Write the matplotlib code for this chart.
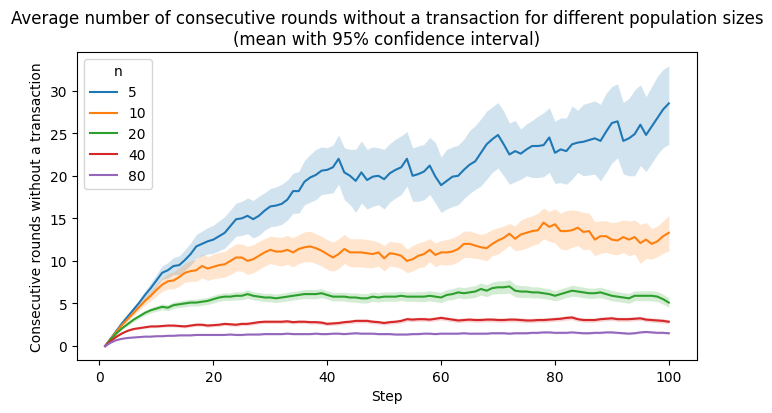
import matplotlib
matplotlib.use("Agg")
import matplotlib.pyplot as plt
import numpy as np

steps = list(range(1, 101))
sizes = [5, 10, 20, 40, 80]

# n = 5 : mean, lower and upper bound of the 95% CI
n5_mean = [0, 0.9, 1.8, 2.7, 3.5, 4.3, 5.1, 6.0, 6.8, 7.7,
           8.6, 8.9, 9.4, 9.5, 10.1, 10.8, 11.7, 12.0, 12.3, 12.5,
           12.9, 13.3, 14.1, 14.9, 15.0, 15.3, 14.9, 15.3, 15.9, 16.4,
           16.5, 16.7, 17.2, 18.2, 18.2, 19.3, 19.8, 20.1, 20.6, 20.7,
           21.0, 22.0, 20.4, 20.0, 19.4, 20.4, 19.5, 19.9, 20.0, 19.6,
           20.3, 20.7, 21.0, 22.0, 20.0, 20.2, 20.5, 21.2, 19.9, 18.9,
           19.4, 19.9, 20.0, 20.7, 21.3, 21.7, 22.7, 23.7, 24.3, 24.8,
           23.7, 22.5, 22.9, 22.6, 23.1, 23.5, 23.5, 23.6, 24.5, 22.7,
           23.1, 22.9, 23.7, 23.9, 24.0, 24.2, 24.4, 24.1, 25.2, 26.2,
           26.4, 24.1, 24.4, 24.9, 26.0, 24.8, 25.8, 26.8, 27.8, 28.5]
n5_hi = [0, 0.95, 1.9, 2.85, 3.75, 4.6, 5.5, 6.5, 7.4, 8.4,
         9.4, 9.8, 10.4, 10.6, 11.3, 12.1, 13.1, 13.5, 13.9, 14.2,
         14.7, 15.2, 16.0, 16.8, 17.0, 17.4, 17.1, 17.6, 18.0, 18.5,
         18.7, 19.0, 19.5, 20.3, 20.5, 21.8, 22.5, 23.1, 23.4, 23.3,
         23.6, 24.8, 23.3, 23.1, 23.1, 24.1, 23.1, 23.4, 23.3, 23.1,
         23.8, 24.3, 24.7, 25.2, 23.3, 23.5, 23.7, 24.5, 23.9, 22.2,
         23.1, 23.4, 23.6, 24.3, 25.3, 25.9, 26.7, 27.6, 28.1, 28.6,
         27.6, 26.2, 26.5, 25.5, 26.1, 26.5, 27.0, 27.4, 28.0, 26.4,
         26.8, 26.8, 28.2, 27.7, 28.4, 28.6, 28.8, 28.4, 29.7, 30.5,
         30.8, 28.6, 29.1, 30.1, 30.7, 29.3, 30.5, 31.7, 32.5, 32.9]
n5_lo = [0, 0.85, 1.7, 2.55, 3.25, 4.0, 4.7, 5.5, 6.2, 7.0,
         7.8, 8.0, 8.4, 8.4, 8.9, 9.5, 10.3, 10.6, 10.8, 10.9,
         11.2, 11.5, 12.2, 12.9, 13.0, 13.2, 12.7, 13.0, 13.6, 14.0,
         14.1, 14.3, 14.8, 15.6, 15.6, 16.6, 16.9, 17.2, 17.8, 17.9,
         18.0, 19.0, 17.2, 16.6, 15.7, 16.8, 16.1, 16.4, 16.6, 16.1,
         16.9, 17.4, 17.8, 18.8, 17.0, 17.0, 17.2, 17.8, 16.8, 15.7,
         16.1, 16.4, 16.6, 17.3, 17.9, 18.4, 18.8, 19.6, 20.4, 20.9,
         20.0, 19.0, 19.3, 19.6, 20.0, 19.8, 19.8, 19.9, 20.4, 19.1,
         19.2, 19.0, 19.6, 20.4, 20.0, 20.1, 20.2, 19.4, 20.4, 21.5,
         22.1, 20.2, 20.0, 20.0, 21.2, 20.5, 21.5, 22.5, 23.3, 23.7]

# n = 10
n10_mean = [0, 0.85, 1.7, 2.5, 3.2, 3.9, 4.6, 5.3, 5.9, 6.6,
            7.2, 7.6, 7.7, 8.1, 8.6, 8.8, 8.9, 9.4, 9.1, 9.3,
            9.5, 9.6, 10.0, 10.4, 10.4, 10.0, 10.2, 10.6, 11.0, 11.3,
            11.1, 11.1, 11.3, 11.0, 11.4, 11.6, 11.7, 11.5, 11.2, 10.8,
            10.4, 10.8, 11.4, 11.0, 11.0, 11.0, 10.9, 10.8, 11.0, 10.3,
            10.9, 10.8, 10.6, 10.0, 10.2, 10.6, 10.8, 11.3, 10.7, 11.0,
            11.0, 11.1, 11.4, 12.0, 12.0, 11.8, 11.6, 11.5, 12.0, 12.4,
            12.7, 13.2, 12.6, 13.1, 13.3, 13.5, 13.6, 14.5, 14.0, 14.3,
            13.5, 13.5, 13.6, 13.9, 13.4, 13.5, 12.5, 12.9, 12.9, 12.5,
            12.4, 12.8, 12.5, 12.8, 12.1, 12.5, 12.0, 12.3, 12.9, 13.3]
n10_hi = [0, 0.9, 1.8, 2.7, 3.45, 4.25, 5.0, 5.8, 6.5, 7.3,
          8.0, 8.5, 8.7, 9.2, 9.7, 10.0, 10.2, 10.8, 10.5, 10.8,
          11.0, 11.1, 11.6, 12.0, 12.0, 11.7, 11.9, 12.3, 12.6, 12.9,
          12.8, 12.8, 13.0, 12.7, 13.1, 13.4, 13.5, 13.2, 12.9, 12.5,
          12.2, 12.6, 13.1, 12.6, 12.6, 12.6, 12.5, 12.4, 12.2, 11.8,
          12.3, 12.2, 12.1, 11.4, 11.8, 12.1, 12.3, 12.6, 12.1, 12.4,
          12.5, 12.7, 13.0, 13.5, 13.5, 13.3, 13.1, 13.3, 13.7, 13.9,
          14.1, 14.4, 14.1, 14.8, 15.1, 15.3, 15.6, 16.2, 15.8, 16.1,
          15.6, 15.9, 16.0, 15.9, 15.7, 15.6, 14.6, 14.7, 14.7, 14.5,
          14.6, 14.8, 14.7, 14.8, 14.3, 14.5, 13.8, 14.1, 14.7, 15.3]
n10_lo = [0, 0.8, 1.6, 2.3, 2.95, 3.55, 4.2, 4.8, 5.3, 5.9,
          6.4, 6.7, 6.7, 7.0, 7.5, 7.6, 7.6, 8.0, 7.7, 7.9,
          8.0, 8.1, 8.4, 8.8, 8.8, 8.4, 8.6, 9.0, 9.4, 9.7,
          9.5, 9.4, 9.6, 9.3, 9.7, 9.9, 9.9, 9.7, 9.4, 9.0,
          8.8, 9.1, 9.7, 9.3, 9.3, 9.3, 9.2, 9.2, 9.4, 8.8,
          9.4, 9.3, 9.1, 8.6, 8.8, 9.2, 9.3, 9.9, 9.3, 9.6,
          9.5, 9.6, 9.9, 10.4, 10.4, 10.3, 10.2, 10.0, 10.6, 10.8,
          11.3, 11.8, 11.2, 11.3, 11.5, 11.8, 12.0, 12.6, 12.3, 12.1,
          11.4, 11.3, 11.6, 11.8, 11.3, 11.4, 10.6, 10.9, 11.0, 10.8,
          10.7, 11.0, 10.6, 10.8, 9.7, 10.3, 10.2, 10.5, 10.9, 11.2]

# n = 20, 40, 80 : mean and half width of the CI band
n20_mean = [0, 0.8, 1.5, 2.1, 2.6, 3.1, 3.5, 3.9, 4.2, 4.4,
            4.6, 4.5, 4.8, 4.9, 5.0, 5.1, 5.1, 5.2, 5.3, 5.5,
            5.7, 5.8, 5.8, 5.9, 5.9, 6.1, 5.9, 5.8, 5.7, 5.7,
            5.6, 5.7, 5.8, 5.9, 6.0, 6.1, 6.1, 6.1, 6.2, 6.0,
            5.8, 5.8, 5.8, 5.7, 5.7, 5.6, 5.6, 5.8, 5.7, 5.8,
            5.8, 5.8, 5.9, 5.8, 5.8, 5.8, 5.8, 5.9, 5.8, 5.7,
            6.0, 6.1, 6.3, 6.2, 6.3, 6.4, 6.7, 6.5, 6.8, 6.9,
            6.9, 7.0, 6.5, 6.4, 6.4, 6.3, 6.3, 6.2, 6.1, 5.9,
            6.1, 6.3, 6.5, 6.4, 6.3, 6.2, 6.2, 6.3, 6.1, 5.9,
            5.8, 5.7, 5.6, 5.9, 5.9, 5.9, 5.9, 5.8, 5.5, 5.1]
n20_err = [0, 0.05, 0.1, 0.15, 0.2, 0.22, 0.25, 0.28, 0.3, 0.32,
           0.35, 0.35, 0.38, 0.38, 0.4, 0.4, 0.4, 0.42, 0.42, 0.45,
           0.45, 0.45, 0.45, 0.48, 0.48, 0.5, 0.48, 0.48, 0.48, 0.5,
           0.5, 0.5, 0.5, 0.5, 0.5, 0.52, 0.55, 0.55, 0.52, 0.5,
           0.5, 0.5, 0.52, 0.52, 0.55, 0.55, 0.55, 0.55, 0.55, 0.55,
           0.55, 0.55, 0.55, 0.55, 0.55, 0.58, 0.6, 0.6, 0.6, 0.62,
           0.62, 0.65, 0.65, 0.65, 0.68, 0.7, 0.72, 0.7, 0.72, 0.75,
           0.75, 0.78, 0.72, 0.7, 0.68, 0.65, 0.65, 0.62, 0.62, 0.6,
           0.62, 0.62, 0.65, 0.62, 0.62, 0.6, 0.6, 0.62, 0.6, 0.6,
           0.58, 0.58, 0.58, 0.58, 0.58, 0.6, 0.6, 0.6, 0.58, 0.55]

n40_mean = [0, 0.6, 1.1, 1.5, 1.8, 2.0, 2.1, 2.2, 2.3, 2.3,
            2.35, 2.4, 2.4, 2.35, 2.3, 2.4, 2.5, 2.5, 2.4, 2.45,
            2.5, 2.6, 2.55, 2.5, 2.6, 2.6, 2.7, 2.8, 2.85, 2.85,
            2.85, 2.85, 2.9, 2.8, 2.85, 2.85, 2.8, 2.8, 2.75, 2.6,
            2.65, 2.7, 2.8, 2.85, 2.95, 2.95, 2.95, 2.85, 2.8, 2.7,
            2.8, 2.85, 2.95, 3.15, 3.1, 3.15, 3.15, 3.1, 3.2, 3.3,
            3.2, 3.1, 3.0, 3.05, 3.1, 3.05, 3.05, 3.1, 3.1, 3.05,
            3.05, 3.1, 3.1, 3.05, 3.0, 3.0, 3.05, 3.05, 3.1, 3.15,
            3.2, 3.3, 3.35, 3.15, 3.05, 3.05, 3.05, 3.15, 3.2, 3.25,
            3.15, 3.15, 3.15, 3.2, 3.25, 3.1, 3.05, 3.0, 2.95, 2.85]
n40_err = [0, 0.04, 0.06, 0.08, 0.1, 0.11, 0.12, 0.13, 0.14, 0.15,
           0.15, 0.16, 0.16, 0.16, 0.17, 0.17, 0.17, 0.18, 0.18, 0.18,
           0.18, 0.19, 0.19, 0.19, 0.2, 0.2, 0.2, 0.2, 0.2, 0.2,
           0.2, 0.2, 0.21, 0.21, 0.21, 0.21, 0.21, 0.22, 0.22, 0.22,
           0.22, 0.22, 0.22, 0.22, 0.23, 0.23, 0.23, 0.23, 0.23, 0.23,
           0.23, 0.23, 0.24, 0.24, 0.24, 0.24, 0.24, 0.24, 0.24, 0.25,
           0.25, 0.25, 0.25, 0.25, 0.25, 0.25, 0.25, 0.25, 0.25, 0.25,
           0.25, 0.25, 0.25, 0.25, 0.25, 0.25, 0.25, 0.25, 0.25, 0.25,
           0.25, 0.26, 0.26, 0.25, 0.25, 0.25, 0.25, 0.25, 0.25, 0.25,
           0.25, 0.25, 0.25, 0.25, 0.25, 0.25, 0.25, 0.25, 0.25, 0.25]

n80_mean = [0, 0.4, 0.7, 0.85, 0.95, 1.0, 1.05, 1.1, 1.1, 1.15,
            1.15, 1.2, 1.2, 1.25, 1.25, 1.25, 1.3, 1.3, 1.3, 1.3,
            1.3, 1.3, 1.35, 1.3, 1.3, 1.35, 1.35, 1.35, 1.4, 1.4,
            1.4, 1.4, 1.45, 1.4, 1.4, 1.4, 1.4, 1.45, 1.4, 1.4,
            1.45, 1.45, 1.4, 1.45, 1.5, 1.45, 1.45, 1.45, 1.4, 1.4,
            1.4, 1.35, 1.35, 1.35, 1.4, 1.4, 1.45, 1.45, 1.4, 1.45,
            1.45, 1.45, 1.45, 1.5, 1.45, 1.45, 1.45, 1.45, 1.5, 1.5,
            1.5, 1.45, 1.5, 1.5, 1.5, 1.55, 1.55, 1.6, 1.6, 1.55,
            1.55, 1.55, 1.6, 1.55, 1.5, 1.5, 1.55, 1.55, 1.6, 1.6,
            1.55, 1.5, 1.45, 1.5, 1.6, 1.65, 1.6, 1.55, 1.55, 1.5]
n80_err = [0, 0.02, 0.03, 0.04, 0.05, 0.05, 0.06, 0.06, 0.07, 0.07,
           0.07, 0.08, 0.08, 0.08, 0.08, 0.08, 0.09, 0.09, 0.09, 0.09,
           0.09, 0.09, 0.09, 0.09, 0.1, 0.1, 0.1, 0.1, 0.1, 0.1,
           0.1, 0.1, 0.1, 0.1, 0.1, 0.1, 0.1, 0.1, 0.1, 0.1,
           0.1, 0.1, 0.1, 0.1, 0.11, 0.11, 0.11, 0.11, 0.11, 0.11,
           0.11, 0.11, 0.11, 0.11, 0.11, 0.11, 0.11, 0.11, 0.11, 0.11,
           0.11, 0.11, 0.11, 0.12, 0.12, 0.12, 0.12, 0.12, 0.12, 0.12,
           0.12, 0.12, 0.12, 0.12, 0.12, 0.12, 0.12, 0.12, 0.12, 0.12,
           0.12, 0.12, 0.12, 0.12, 0.12, 0.12, 0.12, 0.12, 0.12, 0.12,
           0.12, 0.12, 0.12, 0.12, 0.12, 0.12, 0.12, 0.12, 0.12, 0.12]

colors = ['#1f77b4', '#ff7f0e', '#2ca02c', '#d62728', '#9467bd']


def band(mean, err):
    m = np.array(mean)
    e = np.array(err)
    return m - e, m + e


series = [
    (n5_mean, n5_lo, n5_hi),
    (n10_mean, n10_lo, n10_hi),
    (n20_mean,) + band(n20_mean, n20_err),
    (n40_mean,) + band(n40_mean, n40_err),
    (n80_mean,) + band(n80_mean, n80_err),
]

fig = plt.figure(figsize=(7.72, 4.14), dpi=100)
ax = fig.add_axes([77 / 772, 53 / 414, 620 / 772, 308 / 414])

for size, (mean, lo, hi), color in zip(sizes, series, colors):
    ax.fill_between(steps, lo, hi, color=color, alpha=0.2, linewidth=0)
    ax.plot(steps, mean, color=color, linewidth=1.5, label=str(size))

ax.set_xticks([0, 20, 40, 60, 80, 100])
ax.set_yticks([0, 5, 10, 15, 20, 25, 30])
ax.set_xlabel("Step")
ax.set_ylabel("Consecutive rounds without a transaction")
ax.set_title("Average number of consecutive rounds without a transaction for different population sizes\n"
             "(mean with 95% confidence interval)")
ax.legend(title="n", loc="upper left")

fig.savefig("out.png", dpi=100)
